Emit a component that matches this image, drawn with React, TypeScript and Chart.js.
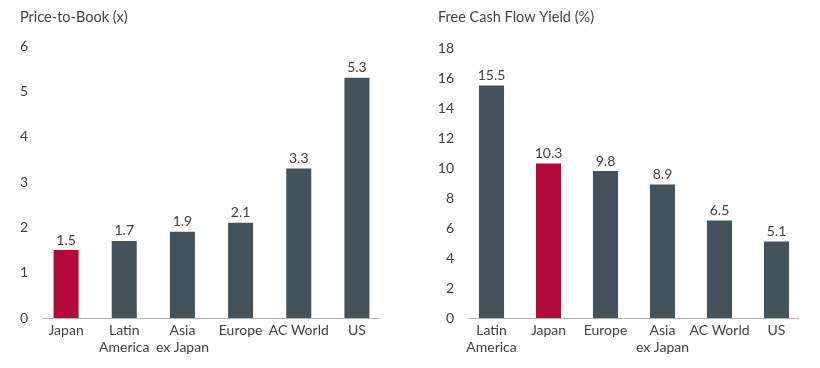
import React, { useEffect, useRef } from "react";
import { Chart, registerables } from "chart.js";

Chart.register(...registerables);

const pbCategories: (string | string[])[] = ["Japan", ["Latin", "America"], ["Asia", "ex Japan"], "Europe", "AC World", "US"];
const pbValues = [1.5, 1.7, 1.9, 2.1, 3.3, 5.3];
const pbLabels = ["1.5", "1.7", "1.9", "2.1", "3.3", "5.3"];
const pbTitle = "Price-to-Book (x)";

const fcfCategories: (string | string[])[] = [["Latin", "America"], "Japan", "Europe", ["Asia", "ex Japan"], "AC World", "US"];
const fcfValues = [15.5, 10.3, 9.8, 8.9, 6.5, 5.1];
const fcfLabels = ["15.5", "10.3", "9.8", "8.9", "6.5", "5.1"];
const fcfTitle = "Free Cash Flow Yield (%)";

const RED = "#b5093b";
const DARK = "#44525c";
const TEXT = "#3f3f3f";
const FONT = "Lato, 'Open Sans', sans-serif";

type Cfg = {
  categories: (string | string[])[];
  values: number[];
  labels: string[];
  title: string;
  highlight: string;
  max: number;
  step: number;
  yWidth: number;
  padRight: number;
  padTop: number;
  titleX: number;
  barPct: number;
  lineInsetL: number;
  lineInsetR: number;
};

function BarPanel({ cfg, left, width }: { cfg: Cfg; left: number; width: number }) {
  const ref = useRef<HTMLCanvasElement>(null);
  useEffect(() => {
    if (!ref.current) return;
    const overlay = {
      id: "overlay",
      afterDraw(chart: any) {
        const ctx = chart.ctx;
        const area = chart.chartArea;
        ctx.save();
        ctx.fillStyle = TEXT;
        ctx.font = `14.5px ${FONT}`;
        ctx.textAlign = "left";
        ctx.textBaseline = "middle";
        ctx.fillText(cfg.title, cfg.titleX, 17);
        ctx.strokeStyle = "#b4b4b4";
        ctx.lineWidth = 1;
        ctx.beginPath();
        ctx.moveTo(area.left + cfg.lineInsetL, Math.round(area.bottom) + 0.5);
        ctx.lineTo(area.right - cfg.lineInsetR, Math.round(area.bottom) + 0.5);
        ctx.stroke();
        const meta = chart.getDatasetMeta(0);
        ctx.font = `14px ${FONT}`;
        ctx.textAlign = "center";
        ctx.textBaseline = "bottom";
        meta.data.forEach((bar: any, i: number) => {
          ctx.fillText(cfg.labels[i], bar.x, bar.y - 3);
        });
        ctx.restore();
      },
    };
    const chart = new Chart(ref.current, {
      type: "bar",
      data: {
        labels: cfg.categories,
        datasets: [
          {
            data: cfg.values,
            backgroundColor: cfg.categories.map((c) => (c === cfg.highlight ? RED : DARK)),
            barPercentage: cfg.barPct,
            categoryPercentage: 1,
          },
        ],
      },
      options: {
        animation: false,
        responsive: false,
        maintainAspectRatio: false,
        devicePixelRatio: 1,
        layout: { padding: { top: cfg.padTop, right: cfg.padRight, left: 0, bottom: 0 } },
        plugins: { legend: { display: false }, tooltip: { enabled: false }, title: { display: false } },
        scales: {
          x: {
            grid: { display: false, drawTicks: false },
            border: { display: false },
            ticks: { color: TEXT, font: { family: FONT, size: 14, lineHeight: 1.22 }, padding: 4, maxRotation: 0, autoSkip: false },
            afterFit: (s: any) => {
              s.height = 50;
            },
          },
          y: {
            min: 0,
            max: cfg.max,
            grid: { display: false, drawTicks: false },
            border: { display: false },
            ticks: { stepSize: cfg.step, color: TEXT, font: { family: FONT, size: 14 }, padding: 9 },
            afterFit: (s: any) => {
              s.width = cfg.yWidth;
            },
          },
        },
      },
      plugins: [overlay],
    });
    return () => chart.destroy();
  }, []);
  return (
    <canvas
      ref={ref}
      width={width}
      height={368}
      style={{ position: "absolute", left, top: 0, width, height: 368 }}
    />
  );
}

export default function App() {
  const pb: Cfg = {
    categories: pbCategories,
    values: pbValues,
    labels: pbLabels,
    title: pbTitle,
    highlight: "Japan",
    max: 6,
    step: 1,
    yWidth: 37,
    padRight: 14,
    padTop: 46,
    titleX: 20,
    barPct: 0.43,
    lineInsetL: 5,
    lineInsetR: 6,
  };
  const fcf: Cfg = {
    categories: fcfCategories,
    values: fcfValues,
    labels: fcfLabels,
    title: fcfTitle,
    highlight: "Japan",
    max: 18,
    step: 2,
    yWidth: 63,
    padRight: 15,
    padTop: 48,
    titleX: 38,
    barPct: 0.44,
    lineInsetL: 5,
    lineInsetR: 6,
  };
  return (
    <div style={{ position: "fixed", left: 0, top: 0, width: 820, height: 368, background: "#fff" }}>
      <BarPanel cfg={pb} left={0} width={400} />
      <BarPanel cfg={fcf} left={400} width={420} />
    </div>
  );
}
